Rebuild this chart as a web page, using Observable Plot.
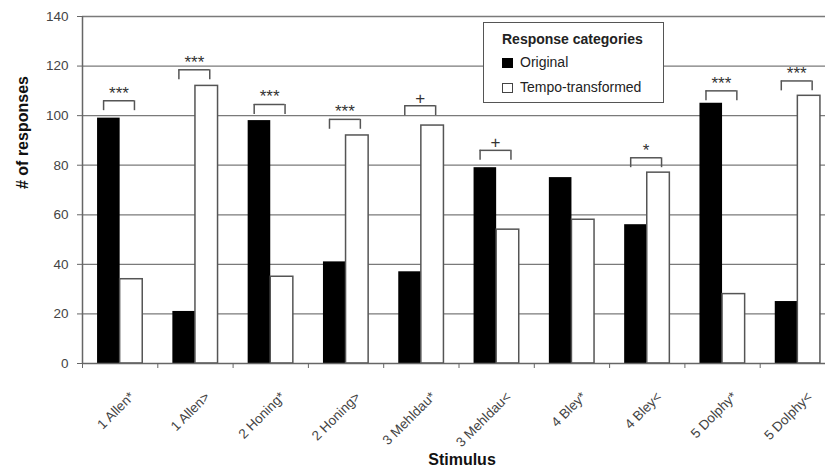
<!DOCTYPE html>
<html><head><meta charset="utf-8">
<script src="https://cdn.jsdelivr.net/npm/d3@7"></script>
<script src="https://cdn.jsdelivr.net/npm/@observablehq/plot@0.6"></script>
<style>
body{margin:0;background:#fff;font-family:"Liberation Sans",Arial,sans-serif;}
#wrap{position:relative;width:825px;height:470px;overflow:hidden;}
#legend{position:absolute;left:483px;top:22px;width:181px;height:81px;border:1.5px solid #555;background:#fff;box-sizing:border-box;color:#222;}
#legend .t{position:absolute;left:18px;top:8px;font-weight:bold;font-size:14px;}
#legend .r{position:absolute;left:18px;font-size:14px;line-height:14px;}
#legend .sw{display:inline-block;width:11px;height:10px;box-sizing:border-box;margin-right:7px;vertical-align:-1px;}
</style></head><body>
<div id="wrap"><div id="chart"></div>
<div id="legend">
  <div class="t">Response categories</div>
  <div class="r" style="top:32px"><span class="sw" style="background:#000;border:1px solid #000"></span>Original</div>
  <div class="r" style="top:57px"><span class="sw" style="background:#fff;border:1px solid #444"></span>Tempo-transformed</div>
</div></div>
<script>
const stimuli = ["1 Allen*", "1 Allen>", "2 Honing*", "2 Honing>", "3 Mehldau*", "3 Mehldau<", "4 Bley*", "4 Bley<", "5 Dolphy*", "5 Dolphy<"];
const original = [99, 21, 98, 41, 37, 79, 75, 56, 105, 25];
const tempo = [34, 112, 35, 92, 96, 54, 58, 77, 28, 108];
const sigLabels = ["***", "***", "***", "***", "+", "+", "", "*", "***", "***"];
const bracketTops = [106, 118.5, 104.5, 98.5, 104, 86, null, 83, 110, 114];
const yTicks = [0, 20, 40, 60, 80, 100, 120, 140];

const origData = stimuli.map((s, i) => ({i, s, v: original[i]}));
const tempoData = stimuli.map((s, i) => ({i, s, v: tempo[i]}));
const brackets = stimuli.map((s, i) => ({i, top: bracketTops[i], label: sigLabels[i]})).filter(d => d.top != null);
const legs = brackets.flatMap(d => [{x: d.i + 0.28, top: d.top}, {x: d.i + 0.69, top: d.top}]);

const chart = Plot.plot({
  width: 825, height: 470,
  marginLeft: 82, marginRight: 0, marginTop: 16, marginBottom: 107,
  style: {fontFamily: "'Liberation Sans', Arial, sans-serif", color: "#444", background: "#fff"},
  x: {type: "linear", domain: [0, 10], range: [82, 835], axis: null},
  y: {domain: [0, 140], axis: null},
  marks: [
    Plot.ruleY(yTicks.slice(1), {stroke: "#7a7a7a", strokeWidth: 1.3}),
    Plot.rect(origData, {x1: d => d.i + 0.2, x2: d => d.i + 0.5, y1: 0, y2: "v", fill: "#000"}),
    Plot.rect(tempoData, {x1: d => d.i + 0.5, x2: d => d.i + 0.8, y1: 0, y2: "v", fill: "#fff", stroke: "#555", strokeWidth: 1.5}),
    Plot.ruleY([0], {stroke: "#666", strokeWidth: 1.5}),
    Plot.ruleX([0], {y1: 0, y2: 140, stroke: "#666", strokeWidth: 1.5}),
    Plot.axisY({ticks: yTicks, tickSize: 5, tickPadding: 9, fontSize: 13.5, label: null, stroke: "#666"}),
    Plot.axisX({ticks: d3.range(11), tickSize: 5, tickFormat: () => "", label: null, stroke: "#666"}),
    Plot.text(stimuli, {x: (d, i) => i + 0.5, frameAnchor: "bottom", text: d => d, rotate: -45, textAnchor: "end", lineAnchor: "middle", dx: 12, dy: 31, fontSize: 13.5, fill: "#444"}),
    Plot.ruleY(brackets, {y: "top", x1: d => d.i + 0.28, x2: d => d.i + 0.69, stroke: "#555", strokeWidth: 1.5}),
    Plot.ruleX(legs, {x: "x", y1: "top", y2: d => d.top - 4, stroke: "#555", strokeWidth: 1.5}),
    Plot.text(brackets, {x: d => d.i + 0.485, y: "top", text: "label", lineAnchor: "bottom", dy: -2, fontSize: 17, fill: "#333"}),
    Plot.text(["Stimulus"], {frameAnchor: "bottom", dx: 8, dy: 101, lineAnchor: "bottom", fontWeight: "bold", fontSize: 16, fill: "#111"}),
    Plot.text(["# of responses"], {frameAnchor: "left", rotate: -90, dx: -60, dy: -1, fontWeight: "bold", fontSize: 16, fill: "#111"})
  ]
});
document.getElementById("chart").append(chart);
</script>
</body></html>
